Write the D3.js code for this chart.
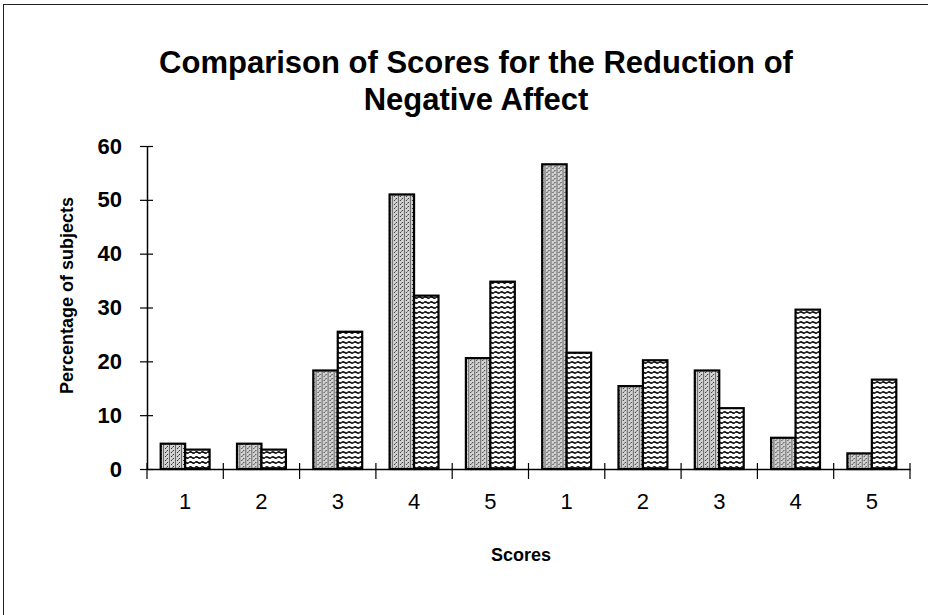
<!DOCTYPE html>
<html>
<head>
<meta charset="utf-8">
<script src="https://cdn.jsdelivr.net/npm/d3@7"></script>
<style>
  html, body { margin: 0; padding: 0; background: #fff; }
  svg { display: block; font-family: "Liberation Sans", Arial, sans-serif; }
</style>
</head>
<body>
<svg id="chart" width="928" height="615"></svg>
<script>
// ---- data ----
const categories = ["1", "2", "3", "4", "5", "1", "2", "3", "4", "5"];
const seriesNames = ["A", "B"];
const seriesA = [4.7, 4.7, 18.3, 51.0, 20.6, 56.6, 15.4, 18.3, 5.8, 2.9];
const seriesB = [3.6, 3.6, 25.5, 32.2, 34.8, 21.6, 20.2, 11.3, 29.6, 16.6];
const yTicks = [0, 10, 20, 30, 40, 50, 60];
const titleLines = ["Comparison of Scores for the Reduction of", "Negative Affect"];
const yTitle = "Percentage of subjects";
const xTitle = "Scores";

// ---- layout ----
const W = 928, H = 615;
const plot = { left: 147, right: 910, top: 146, bottom: 469 };

const svg = d3.select("#chart");

// patterns
const defs = svg.append("defs");
const pA = defs.append("pattern").attr("id", "patA")
  .attr("patternUnits", "userSpaceOnUse").attr("width", 6).attr("height", 4);
pA.append("rect").attr("width", 6).attr("height", 4).attr("fill", "#d2d2d2");
pA.append("rect").attr("x", 0).attr("y", 0).attr("width", 1).attr("height", 1).attr("fill", "#333");
pA.append("rect").attr("x", 2).attr("y", 2).attr("width", 1).attr("height", 1).attr("fill", "#333");
pA.append("rect").attr("x", 1).attr("y", 3).attr("width", 1).attr("height", 1).attr("fill", "#777");
pA.append("rect").attr("x", 4).attr("y", 0).attr("width", 1).attr("height", 4).attr("fill", "#666");

const pB = defs.append("pattern").attr("id", "patB")
  .attr("patternUnits", "userSpaceOnUse").attr("width", 6).attr("height", 5);
pB.append("rect").attr("width", 6).attr("height", 5).attr("fill", "#fff");
pB.append("path").attr("d", "M0,2.5 Q1.5,1.2 3,2.5 T6,2.5")
  .attr("fill", "none").attr("stroke", "#000").attr("stroke-width", 1.5);

// frame (top and left lines)
svg.append("line").attr("x1", 3).attr("x2", W).attr("y1", 4.5).attr("y2", 4.5)
  .attr("stroke", "#222").attr("stroke-width", 1);
svg.append("line").attr("x1", 3.5).attr("x2", 3.5).attr("y1", 4).attr("y2", H)
  .attr("stroke", "#222").attr("stroke-width", 1);

// scales
const idx = d3.range(categories.length);
const x = d3.scaleBand().domain(idx).range([plot.left, plot.right]).paddingInner(0).paddingOuter(0);
const x1 = d3.scaleBand().domain(seriesNames).range([0, x.bandwidth()]).paddingInner(0).paddingOuter(0.56);
const y = d3.scaleLinear().domain([0, 60]).range([plot.bottom, plot.top]);

// bars
const rows = idx.map(i => ({ i, A: seriesA[i], B: seriesB[i] }));
const g = svg.append("g");
const groups = g.selectAll("g.cat").data(rows).join("g")
  .attr("class", "cat")
  .attr("transform", d => `translate(${x(d.i)},0)`);
groups.selectAll("rect").data(d => seriesNames.map(k => ({ k, v: d[k] }))).join("rect")
  .attr("x", d => x1(d.k))
  .attr("width", x1.bandwidth())
  .attr("y", d => y(d.v))
  .attr("height", d => y(0) - y(d.v))
  .attr("fill", d => d.k === "A" ? "url(#patA)" : "url(#patB)")
  .attr("stroke", "#000")
  .attr("stroke-width", 2.2);

// y axis
const yAxis = svg.append("g").attr("transform", `translate(${plot.left},0)`)
  .call(d3.axisLeft(y).tickValues(yTicks).tickSize(7).tickPadding(18).tickSizeOuter(0));
yAxis.select(".domain").attr("stroke", "#000").attr("stroke-width", 1.5);
yAxis.selectAll(".tick line").attr("stroke", "#000").attr("stroke-width", 1.2);
yAxis.selectAll(".tick").append("line").attr("x1", 0).attr("x2", 6)
  .attr("stroke", "#000").attr("stroke-width", 1.2);
yAxis.selectAll(".tick text")
  .attr("font-family", "Liberation Sans, Arial, sans-serif")
  .attr("font-size", 22).attr("font-weight", "bold").attr("fill", "#000");

// x axis: labels at category centers
const xAxis = svg.append("g").attr("transform", `translate(0,${plot.bottom})`)
  .call(d3.axisBottom(x).tickSize(0).tickPadding(24).tickFormat(i => categories[i]));
xAxis.select(".domain").attr("stroke", "#000").attr("stroke-width", 1.5);
xAxis.selectAll(".tick text")
  .attr("font-family", "Liberation Sans, Arial, sans-serif")
  .attr("font-size", 22).attr("fill", "#000");

// x boundary ticks (crossing the axis)
const bounds = idx.map(i => x(i)).concat([plot.right]);
svg.append("g").selectAll("line").data(bounds).join("line")
  .attr("x1", d => d).attr("x2", d => d)
  .attr("y1", plot.bottom - 6).attr("y2", plot.bottom + 10)
  .attr("stroke", "#000").attr("stroke-width", 1.2);

// title
svg.append("g").selectAll("text").data(titleLines).join("text")
  .attr("x", 476).attr("y", (d, i) => 73 + i * 37)
  .attr("text-anchor", "middle")
  .attr("font-size", 31).attr("font-weight", "bold").attr("fill", "#000")
  .text(d => d);

// axis titles
svg.append("text")
  .attr("transform", `translate(73,${(plot.top + plot.bottom) / 2 - 12}) rotate(-90)`)
  .attr("text-anchor", "middle")
  .attr("font-size", 18).attr("font-weight", "bold").attr("fill", "#000")
  .text(yTitle);

svg.append("text")
  .attr("x", 521).attr("y", 561)
  .attr("text-anchor", "middle")
  .attr("font-size", 18).attr("font-weight", "bold").attr("fill", "#000")
  .text(xTitle);
</script>
</body>
</html>
